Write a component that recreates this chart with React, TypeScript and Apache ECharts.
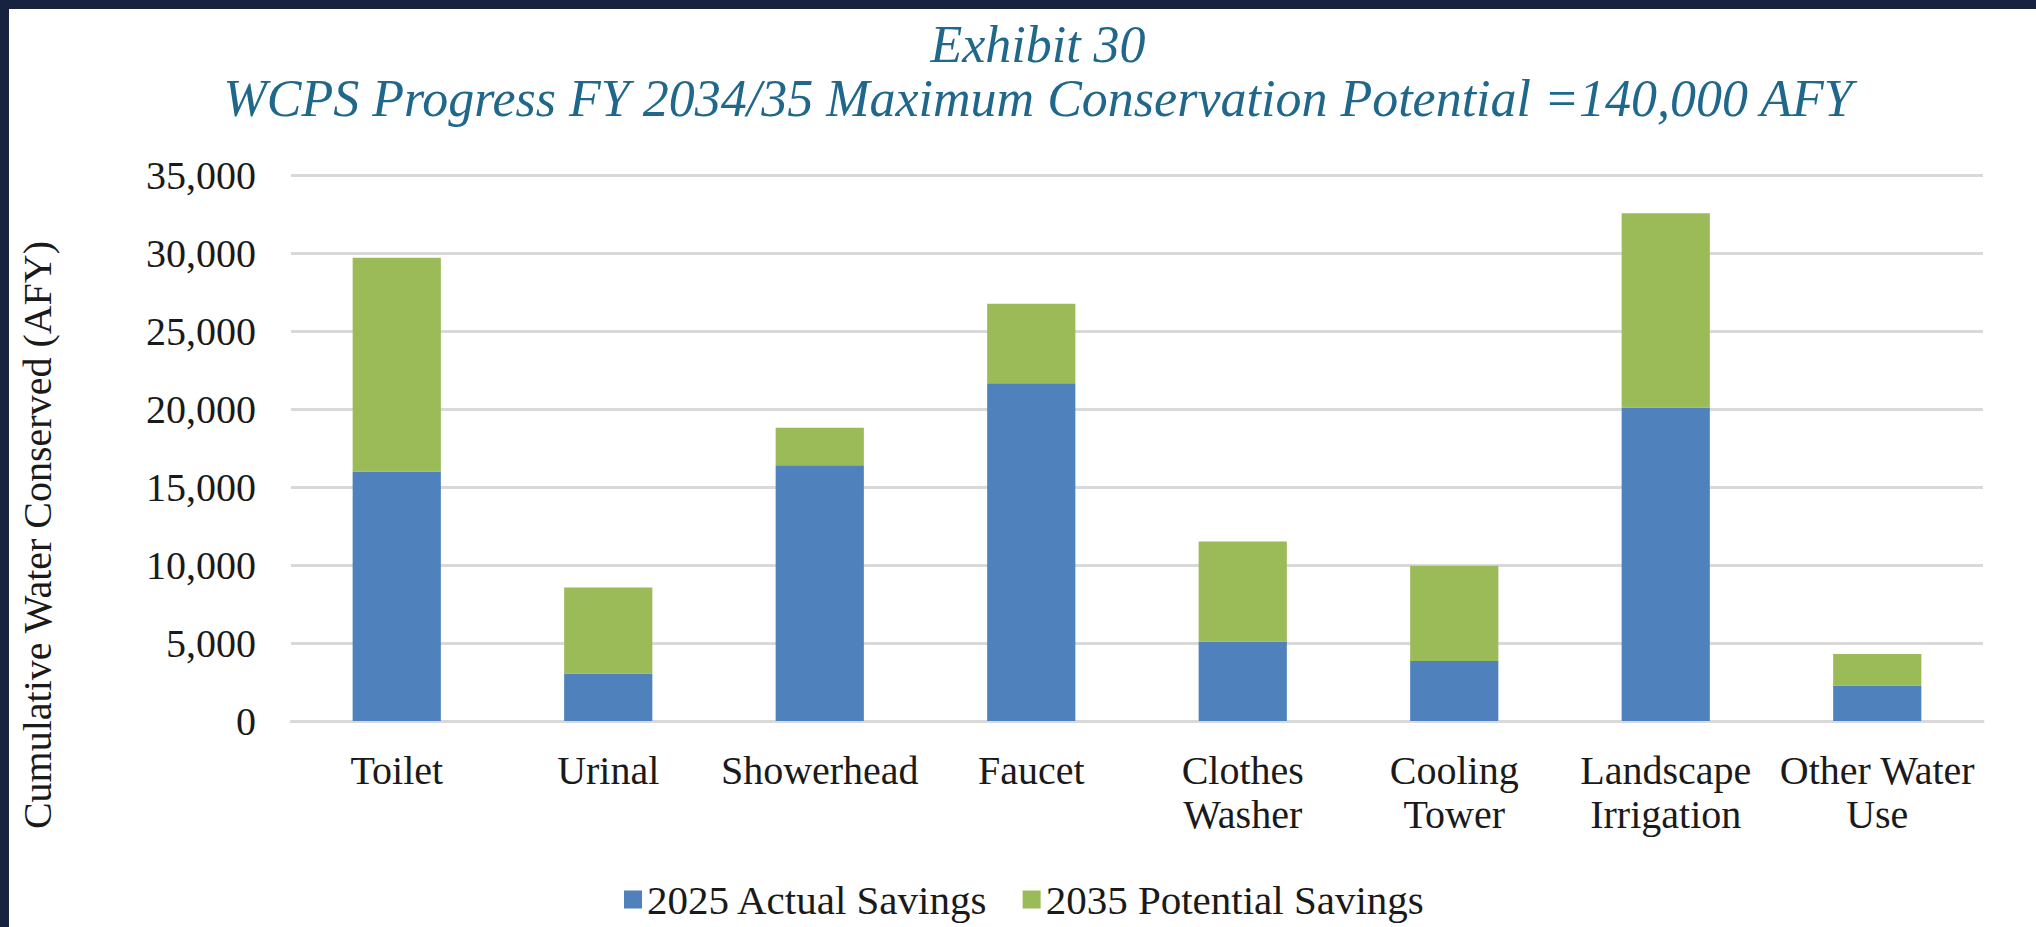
import React, { useEffect, useRef } from "react";
import * as echarts from "echarts";

const categories = [
  "Toilet",
  "Urinal",
  "Showerhead",
  "Faucet",
  "Clothes\nWasher",
  "Cooling\nTower",
  "Landscape\nIrrigation",
  "Other Water\nUse",
];
const actualSavings2025 = [16000, 3050, 16400, 21650, 5100, 3850, 20100, 2270];
const potentialSavings2035 = [13700, 5500, 2400, 5100, 6400, 6100, 12450, 2030];
const seriesNames = ["2025 Actual Savings", "2035 Potential Savings"];
const titleLines = [
  "Exhibit 30",
  "WCPS Progress FY 2034/35 Maximum Conservation Potential =140,000 AFY",
];
const yAxisName = "Cumulative Water Conserved (AFY)";

const FONT = "'Liberation Serif', 'DejaVu Serif', serif";

export default function App() {
  const ref = useRef<HTMLDivElement>(null);
  useEffect(() => {
    document.body.style.margin = "0";
    if (!ref.current) return;
    const chart = echarts.init(ref.current, null, { renderer: "svg" });
    const titleStyle = {
      fontFamily: FONT,
      fontStyle: "italic",
      fontWeight: "normal",
      fontSize: 52,
      color: "#20688b",
    };
    chart.setOption({
      animation: false,
      backgroundColor: "#ffffff",
      title: [
        {
          text: titleLines[0],
          left: 1033,
          top: 13,
          textAlign: "center",
          textStyle: titleStyle,
        },
        {
          text: titleLines[1],
          left: 1033,
          top: 67,
          textAlign: "center",
          textStyle: titleStyle,
        },
      ],
      legend: {
        data: seriesNames,
        left: 619,
        top: 874,
        icon: "rect",
        itemWidth: 18,
        itemHeight: 18,
        itemGap: 34,
        textStyle: { fontFamily: FONT, fontSize: 41, color: "#1a1a1a" },
      },
      grid: { left: 291, right: 53, top: 175, bottom: 206, containLabel: false },
      xAxis: {
        type: "category",
        data: categories,
        axisTick: { show: false },
        axisLine: { lineStyle: { color: "#d9d9d9", width: 3 } },
        axisLabel: {
          interval: 0,
          margin: 27,
          fontFamily: FONT,
          fontSize: 40,
          lineHeight: 44,
          color: "#1a1a1a",
        },
      },
      yAxis: {
        type: "value",
        min: 0,
        max: 35000,
        interval: 5000,
        axisLine: { show: false },
        axisTick: { show: false },
        splitLine: { lineStyle: { color: "#d9d9d9", width: 3 } },
        axisLabel: {
          margin: 35,
          fontFamily: FONT,
          fontSize: 40,
          color: "#1a1a1a",
          formatter: (v: number) => v.toLocaleString("en-US"),
        },
      },
      series: [
        {
          name: seriesNames[0],
          type: "bar",
          stack: "total",
          barWidth: "41.7%",
          itemStyle: { color: "#4f81bd" },
          data: actualSavings2025,
        },
        {
          name: seriesNames[1],
          type: "bar",
          stack: "total",
          barWidth: "41.7%",
          itemStyle: { color: "#9bbb59" },
          data: potentialSavings2035,
        },
      ],
      graphic: [
        {
          type: "text",
          x: 37,
          y: 535,
          rotation: Math.PI / 2,
          style: {
            text: yAxisName,
            fontFamily: FONT,
            fontSize: 40,
            fill: "#1a1a1a",
            textAlign: "center",
            textVerticalAlign: "middle",
          },
        },
        {
          type: "rect",
          shape: { x: 0, y: 0, width: 2036, height: 9 },
          style: { fill: "#17223f" },
          z: 100,
        },
        {
          type: "rect",
          shape: { x: 0, y: 0, width: 9, height: 927 },
          style: { fill: "#17223f" },
          z: 100,
        },
      ],
    });
    return () => chart.dispose();
  }, []);
  return <div ref={ref} style={{ width: 2036, height: 927 }} />;
}
